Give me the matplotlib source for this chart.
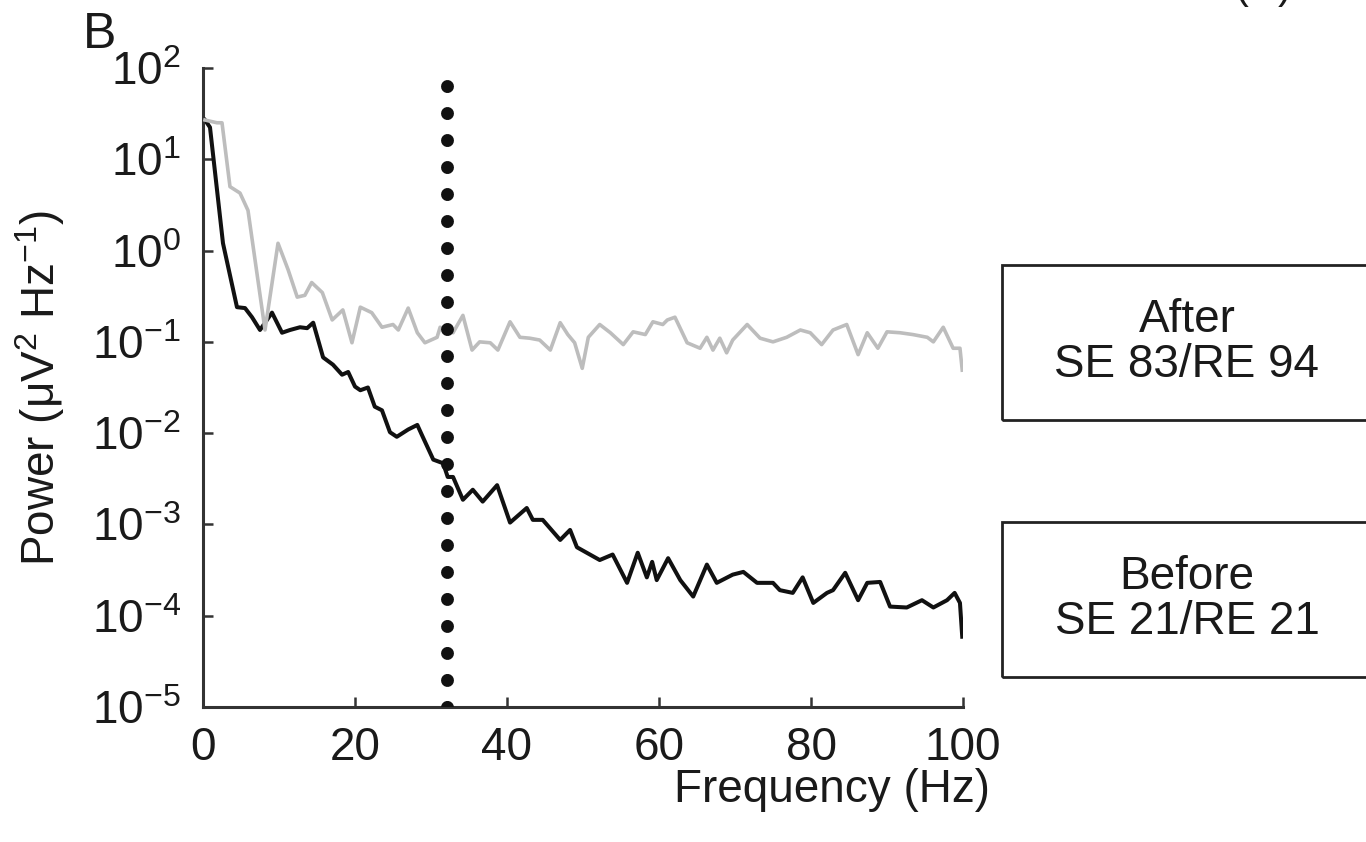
import numpy as np
import matplotlib.pyplot as plt
from matplotlib.patches import Rectangle

plt.rcParams['font.family'] = ['Liberation Sans', 'DejaVu Sans']
plt.rcParams['mathtext.fontset'] = 'custom'
plt.rcParams['mathtext.rm'] = 'Liberation Sans'
plt.rcParams['mathtext.it'] = 'Liberation Sans:italic'
plt.rcParams['mathtext.default'] = 'regular'

# Before (black): frequency (Hz) and log10 power
f_before = [0.26, 0.92, 2.63, 4.47, 5.53, 6.45, 7.5, 9.08, 10.4, 11.45, 12.76, 13.7, 14.5,
            15.8, 17.1, 18.3, 19.1, 20.0, 20.7, 21.7, 22.6, 23.55, 24.6, 25.5, 27.0, 28.2,
            28.8, 30.3, 31.6, 32.2, 32.9, 34.2, 35.5, 36.8, 38.7, 40.4, 42.6, 43.4, 44.7,
            47.0, 48.3, 49.2, 52.2, 53.9, 55.8, 57.2, 58.4, 59.1, 59.7, 61.2, 62.8, 64.5,
            66.3, 67.6, 69.7, 71.1, 72.9, 75.0, 75.9, 77.6, 78.9, 80.3, 82.1, 82.9, 84.5,
            86.2, 87.4, 89.1, 90.4, 92.6, 94.6, 96.1, 97.9, 98.9, 99.6, 99.9]
logp_before = [1.43, 1.35, 0.08, -0.62, -0.63, -0.73, -0.87, -0.68, -0.90, -0.87, -0.84, -0.85, -0.79,
               -1.17, -1.25, -1.36, -1.33, -1.49, -1.53, -1.50, -1.71, -1.75, -1.99, -2.04, -1.96, -1.91,
               -2.02, -2.29, -2.33, -2.48, -2.48, -2.73, -2.62, -2.75, -2.57, -2.98, -2.82, -2.95, -2.95,
               -3.17, -3.06, -3.25, -3.39, -3.33, -3.64, -3.31, -3.58, -3.41, -3.61, -3.37, -3.61, -3.79,
               -3.44, -3.64, -3.55, -3.52, -3.64, -3.64, -3.72, -3.75, -3.58, -3.86, -3.75, -3.72, -3.53,
               -3.83, -3.64, -3.63, -3.90, -3.91, -3.83, -3.91, -3.83, -3.75, -3.86, -4.23]

# After (grey)
f_after = [0.26, 1.84, 2.5, 3.55, 4.87, 5.92, 8.16, 9.87, 11.2, 12.4, 13.4, 14.3, 15.7, 17.0,
           18.4, 19.6, 20.7, 22.2, 23.55, 25.0, 25.7, 27.0, 28.2, 29.2, 30.8, 31.2, 32.9, 34.2,
           35.4, 36.4, 37.8, 38.8, 40.4, 41.7, 43.0, 44.3, 45.7, 47.0, 48.0, 48.9, 49.9, 50.7,
           52.2, 53.6, 55.3, 56.6, 58.2, 59.2, 60.5, 61.1, 62.1, 63.7, 65.4, 66.3, 67.1, 68.0,
           68.9, 69.7, 71.6, 73.3, 75.0, 76.8, 78.6, 79.9, 81.4, 82.9, 84.7, 86.2, 87.4, 88.8,
           90.0, 91.7, 93.4, 95.3, 96.1, 97.4, 98.7, 99.6, 99.9]
logp_after = [1.43, 1.40, 1.40, 0.70, 0.63, 0.44, -0.87, 0.08, -0.21, -0.51, -0.49, -0.35, -0.46, -0.76,
              -0.65, -1.01, -0.62, -0.68, -0.84, -0.81, -0.87, -0.63, -0.90, -1.01, -0.95, -0.84, -0.90, -0.71,
              -1.09, -1.00, -1.01, -1.09, -0.78, -0.95, -0.96, -0.98, -1.09, -0.79, -0.92, -1.01, -1.29, -0.95,
              -0.81, -0.90, -1.03, -0.89, -0.92, -0.78, -0.81, -0.76, -0.73, -1.01, -1.07, -0.95, -1.09, -0.96,
              -1.12, -0.98, -0.81, -0.96, -1.00, -0.95, -0.87, -0.90, -1.03, -0.87, -0.81, -1.14, -0.90, -1.07,
              -0.89, -0.90, -0.92, -0.95, -1.00, -0.84, -1.07, -1.07, -1.31]

cutoff_hz = 32.1
box_text = ['After\nSE 83/RE 94', 'Before\nSE 21/RE 21']

W, H = 1366, 842
fig = plt.figure(figsize=(W / 100, H / 100), dpi=100)
ax = fig.add_axes([203 / W, 1 - 707 / H, 760 / W, 639 / H])

ax.plot(f_before, 10 ** np.array(logp_before), color='#111111', lw=2.9, zorder=2,
        solid_joinstyle='round')
ax.plot(f_after, 10 ** np.array(logp_after), color='#bdbdbd', lw=2.6, zorder=3,
        solid_joinstyle='round')
ax.axvline(cutoff_hz, ymin=0.0, ymax=0.977, color='#111111', lw=9.3, linestyle=(0, (0.01, 2.08)),
           dash_capstyle='round', zorder=4)

ax.set_yscale('log')
ax.set_ylim(1e-5, 1e2)
ax.set_xlim(0, 100)
ax.set_xticks([0, 20, 40, 60, 80, 100])
ax.set_yticks([10.0 ** k for k in range(-5, 3)])
ax.minorticks_off()
for s in ['top', 'right']:
    ax.spines[s].set_visible(False)
for s in ['left', 'bottom']:
    ax.spines[s].set_color('#333333')
    ax.spines[s].set_linewidth(2.2)
ax.tick_params(direction='in', length=7, width=1.8, color='#333333',
               labelsize=33, pad=14, labelcolor='#1a1a1a')
ax.tick_params(axis='y', pad=16)
ax.set_ylabel('Power (μV$^2$ Hz$^{-1}$)', fontsize=33, labelpad=18, color='#1a1a1a')

fig.text(990 / W, 1 - 790 / H, 'Frequency (Hz)', fontsize=33, ha='right', va='center', color='#1a1a1a')
fig.text(83 / W, 1 - 35 / H, 'B', fontsize=36, ha='left', va='center', color='#1a1a1a')
fig.text(1263 / W, 1 + 2 / H, '(C)', fontsize=30, ha='center', va='baseline', color='#1a1a1a')

for (y0, y1), txt in zip([(265, 420), (522, 677)], box_text):
    fig.patches.append(Rectangle((1002 / W, 1 - y1 / H), 500 / W, (y1 - y0) / H,
                                 transform=fig.transFigure, fill=False,
                                 edgecolor='#222222', lw=2))
    fig.text(1187 / W, 1 - (y0 + y1) / 2 / H, txt, fontsize=33, ha='center', va='center',
             linespacing=1.05, color='#1a1a1a')

fig.savefig('out.png', dpi=100)
